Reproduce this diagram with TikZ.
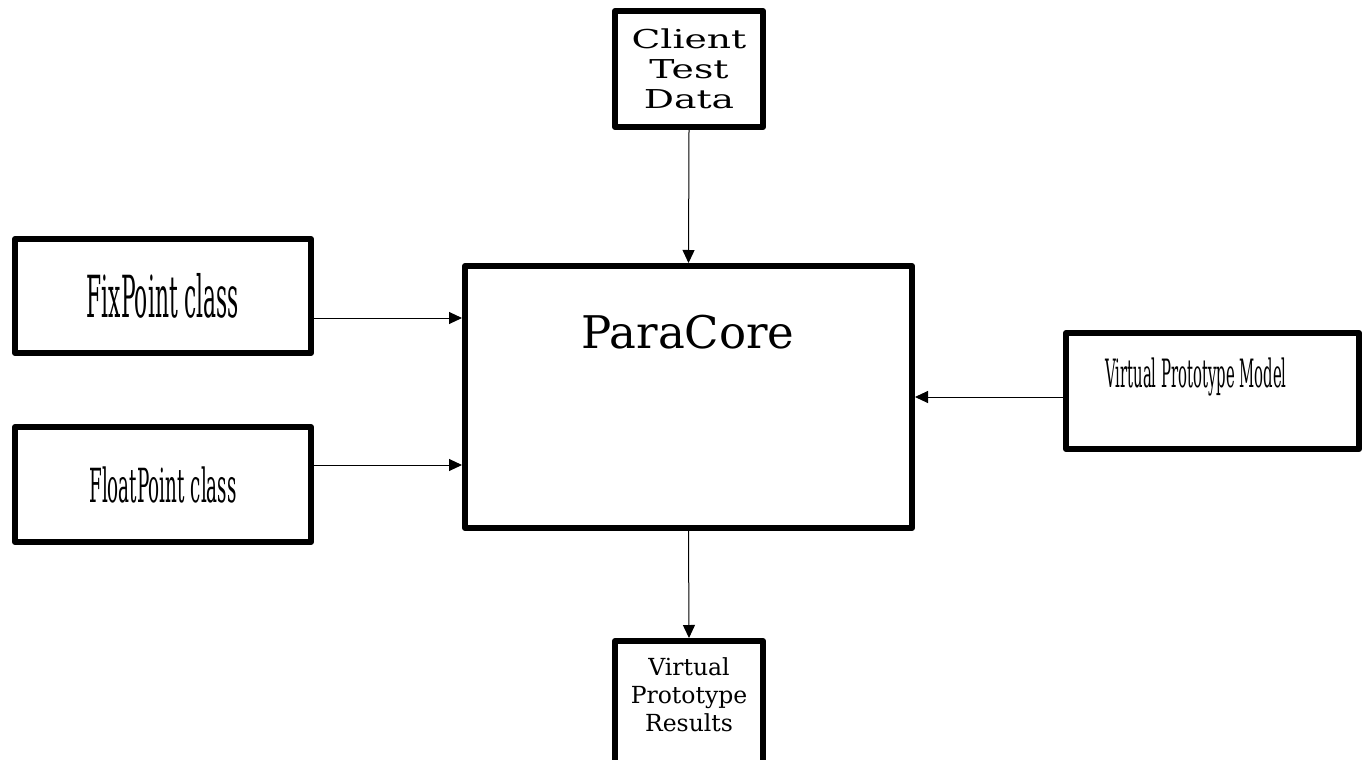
\documentclass[tikz,border=0pt]{standalone}
\usepackage{fontspec}
\setmainfont{DejaVu Serif}
\usepackage{tikz}
\usetikzlibrary{arrows.meta,calc,positioning}
\tikzset{
  blk/.style={rectangle, draw, line width=6pt, inner sep=0pt},
  arr/.style={-{Triangle[length=13pt,width=12pt]}, line width=1pt},
  every picture/.style={line cap=round, line join=round}
}
\newcommand{\squeeze}[3]{\scalebox{#1}[1]{\fontsize{#2}{#2}\selectfont #3}}

\begin{document}
\begin{tikzpicture}[x=1pt, y=-1pt]
  \useasboundingbox (0,0) rectangle (1365,760);
  \node[blk, minimum width=148pt, minimum height=116pt, align=center,
        font=\fontsize{26}{30}\selectfont] (client) at (689,69)
        {\scalebox{1.45}[1]{Client}\\\scalebox{1.45}[1]{Test}\\\scalebox{1.45}[1]{Data}};
  \node[blk, minimum width=296pt, minimum height=114pt] (fix) at (163,296)
        {\squeeze{0.375}{58}{FixPoint class}};
  \node[blk, minimum width=296pt, minimum height=115pt] (float) at (163,484.5)
        {\squeeze{0.39}{47}{FloatPoint class}};
  \node[blk, minimum width=447pt, minimum height=262pt] (core) at (688.5,397) {};
  \node[font=\fontsize{45}{50}\selectfont] (coretxt) at (688,332) {ParaCore};
  \node[blk, minimum width=293pt, minimum height=116pt] (vpm) at (1212.5,391) {};
  \node (vpmtxt) at (1196,377) {\squeeze{0.38}{39}{Virtual Prototype Model}};
  \node[blk, minimum width=148pt, minimum height=158pt] (res) at (689,720) {};
  \node[align=center, font=\fontsize{23.5}{28}\selectfont] (restxt) at (689,695)
        {Virtual\\Prototype\\Results};
  \draw[arr] (client.south) -- (core.north);
  \draw[arr] ([yshift=-22pt]fix.east) -- ([yshift=79pt]core.west);
  \draw[arr] ([yshift=19.5pt]float.east) -- ([yshift=-68pt]core.west);
  \draw[arr] ([yshift=-6pt]vpm.west) -- (core.east);
  \draw[arr] (core.south) -- (res.north);
\end{tikzpicture}
\end{document}
